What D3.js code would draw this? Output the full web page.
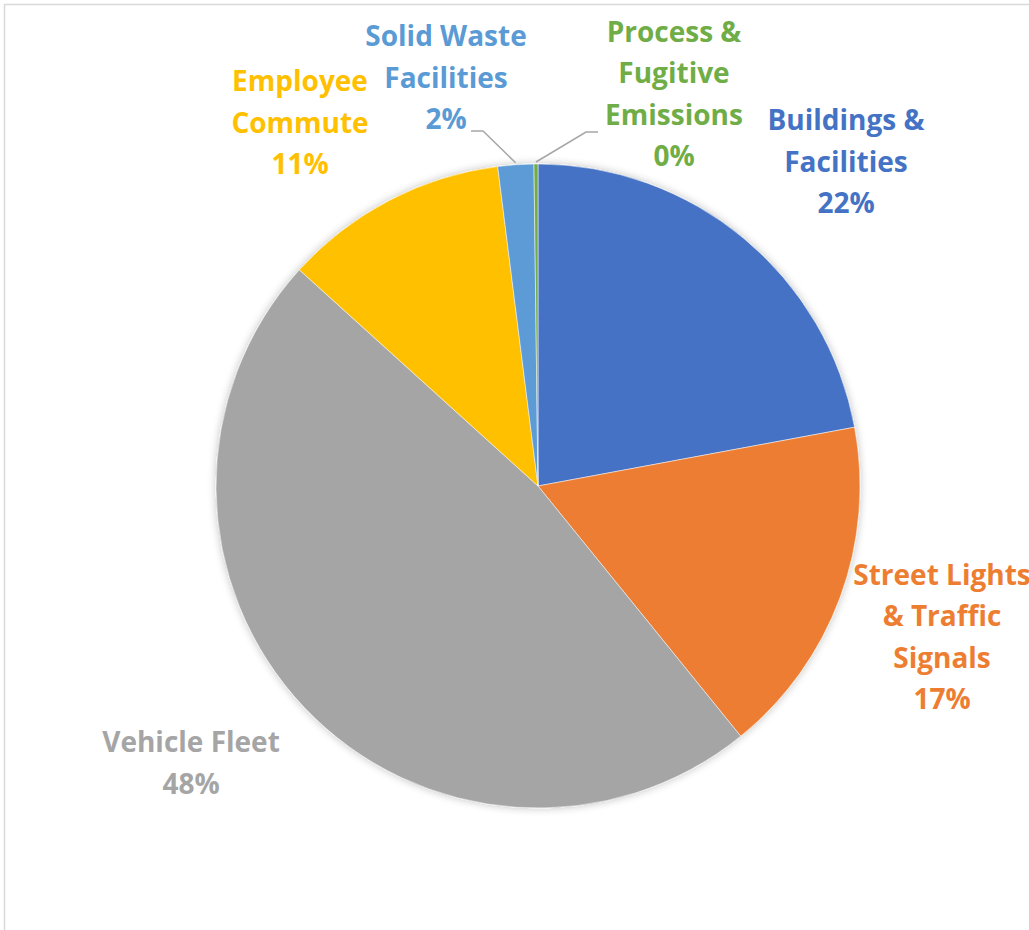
<!DOCTYPE html>
<html>
<head>
<meta charset="utf-8">
<script src="https://cdn.jsdelivr.net/npm/d3@7"></script>
<style>
  body { margin: 0; background: #fff; }
  svg text { font-family: "Open Sans", Lato, sans-serif; font-weight: bold; }
</style>
</head>
<body>
<script>
// data (shares of total emissions)
const categories = ["Buildings & Facilities", "Street Lights & Traffic Signals", "Vehicle Fleet",
                    "Employee Commute", "Solid Waste Facilities", "Process & Fugitive Emissions"];
const values = [22.1, 17.1, 47.6, 11.3, 1.8, 0.2];
const labelLines = [
  ["Buildings &", "Facilities"],
  ["Street Lights", "& Traffic", "Signals"],
  ["Vehicle Fleet"],
  ["Employee", "Commute"],
  ["Solid Waste", "Facilities"],
  ["Process &", "Fugitive", "Emissions"]
];

const colors = ["#4472C4", "#ED7D31", "#A5A5A5", "#FFC000", "#5B9BD5", "#70AD47"];

const width = 1029, height = 930;
const cx = 538, cy = 486, radius = 322;
const lineH = 41.5;

// label centres relative to the pie centre (layout only)
const labelPos = [
  [308, -324], [404, 151], [-347, 277], [-238, -363], [-92, -408], [136, -392]
];
// where a leader line leaves the label (null = no leader)
const leaderStart = [null, null, null, null, [-67, -355], [60, -354]];

const svg = d3.select("body").append("svg")
  .attr("width", width).attr("height", height);

// chart frame
svg.append("rect")
  .attr("x", 4.5).attr("y", 4.5)
  .attr("width", width + 20).attr("height", height + 20)
  .attr("fill", "none").attr("stroke", "#d9d9d9").attr("stroke-width", 1.5);

const total = d3.sum(values);
const pie = d3.pie().sort(null).value(d => d);
const arcs = pie(values);
const arc = d3.arc().innerRadius(0).outerRadius(radius);

const defs = svg.append("defs");
const f = defs.append("filter").attr("id", "shadow").attr("x", "-10%").attr("y", "-10%")
  .attr("width", "120%").attr("height", "120%");
f.append("feGaussianBlur").attr("in", "SourceAlpha").attr("stdDeviation", 4);
f.append("feComponentTransfer").append("feFuncA").attr("type", "linear").attr("slope", 0.25);
const m = f.append("feMerge");
m.append("feMergeNode");
m.append("feMergeNode").attr("in", "SourceGraphic");

const g = svg.append("g").attr("transform", `translate(${cx},${cy})`);

g.append("g").attr("filter", "url(#shadow)")
  .selectAll("path")
  .data(arcs)
  .enter()
  .append("path")
  .attr("d", arc)
  .attr("fill", (d, i) => colors[i])
  .attr("stroke", "#fff")
  .attr("stroke-width", 0.5);

// leader lines for the thin slices
arcs.forEach((d, i) => {
  if (!leaderStart[i]) return;
  const mid = (d.startAngle + d.endAngle) / 2;
  const ex = Math.sin(mid) * (radius + 2), ey = -Math.cos(mid) * (radius + 2);
  const [sx, sy] = leaderStart[i];
  const knee = sx + (ex > sx ? 12 : -12);
  g.append("polyline")
    .attr("points", [[sx, sy], [knee, sy], [ex, ey]].map(p => p.join(",")).join(" "))
    .attr("fill", "none").attr("stroke", "#A6A6A6").attr("stroke-width", 1.5);
});

// labels
arcs.forEach((d, i) => {
  const lines = labelLines[i].concat([Math.round(values[i] / total * 100) + "%"]);
  const [lx, ly] = labelPos[i];
  const t = g.append("text")
    .attr("text-anchor", "middle")
    .attr("fill", colors[i])
    .attr("font-size", 28);
  lines.forEach((s, k) => {
    t.append("tspan")
      .attr("x", lx)
      .attr("y", ly + (k - (lines.length - 1) / 2) * lineH)
      .attr("dy", "0.35em")
      .text(s);
  });
});
</script>
</body>
</html>
